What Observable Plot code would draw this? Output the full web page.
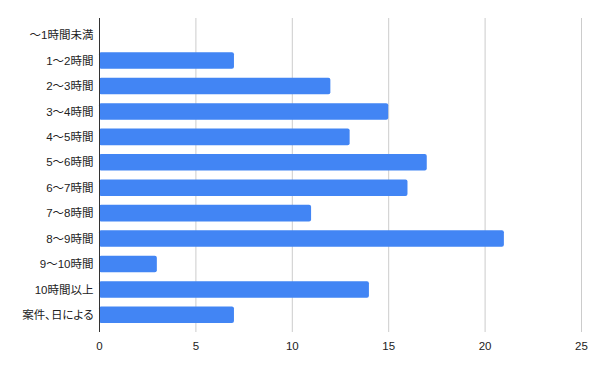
<!DOCTYPE html>
<html>
<head>
<meta charset="utf-8">
<script src="https://cdn.jsdelivr.net/npm/d3@7"></script>
<script src="https://cdn.jsdelivr.net/npm/@observablehq/plot@0.6"></script>
<style>
  html, body { margin: 0; padding: 0; background: #fff; }
  #chart svg { display: block; }
  #chart svg [aria-label="y-axis tick label"] text { font-feature-settings: "palt"; }
</style>
</head>
<body>
<div id="chart"></div>
<script>
const categories = ["〜1時間未満", "1〜2時間", "2〜3時間", "3〜4時間", "4〜5時間", "5〜6時間", "6〜7時間", "7〜8時間", "8〜9時間", "9〜10時間", "10時間以上", "案件、日による"];
const counts = [0, 7, 12, 15, 13, 17, 16, 11, 21, 3, 14, 7];
const xTicks = [0, 5, 10, 15, 20, 25];

const data = categories.map((c, i) => ({category: c, count: counts[i]}));

const chart = Plot.plot({
  width: 600,
  height: 371,
  marginLeft: 99,
  marginRight: 19,
  marginTop: 18,
  marginBottom: 39,
  style: {fontFamily: "'Liberation Sans', 'Noto Sans CJK JP', sans-serif", fontSize: "11px", color: "#222", background: "#fff"},
  x: {domain: [0, 25], ticks: xTicks},
  y: {domain: categories, padding: 0.35, round: false, label: null},
  marks: [
    Plot.gridX(xTicks.filter(d => d > 0), {stroke: "#ccc", strokeOpacity: 1}),
    Plot.barX(data, {x: "count", y: "category", fill: "#4285f4", rx: 2}),
    Plot.ruleX([0], {stroke: "#333", strokeWidth: 1}),
    Plot.axisX(xTicks, {tickSize: 0, tickPadding: 9, label: null, fill: "#222", fontSize: 11.5}),
    Plot.axisY({tickSize: 0, tickPadding: 6, label: null, fill: "#222", fontSize: 11.5})
  ]
});
document.getElementById("chart").append(chart);
</script>
</body>
</html>
